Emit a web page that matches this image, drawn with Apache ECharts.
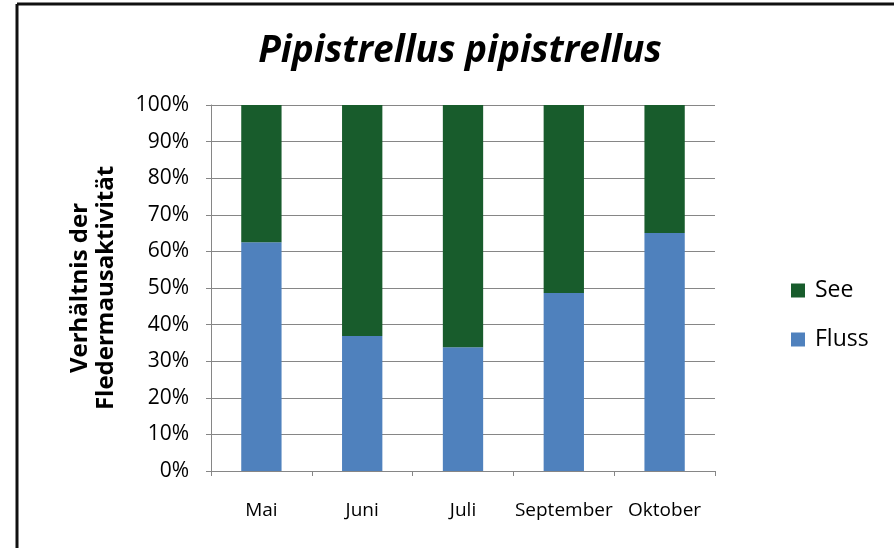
<!DOCTYPE html>
<html>
<head>
<meta charset="utf-8">
<script src="https://cdn.jsdelivr.net/npm/echarts@6/dist/echarts.min.js"></script>
<style>
  html, body { margin: 0; padding: 0; background: #fff; }
  #main { width: 894px; height: 548px; }
</style>
</head>
<body>
<div id="main"></div>
<script>
// Monate und Anteile (in %)
var months = ['Mai', 'Juni', 'Juli', 'September', 'Oktober'];
var fluss = [62.5, 36.9, 33.8, 48.6, 65.0];
var see = [37.5, 63.1, 66.2, 51.4, 35.0];
var yTicks = [0, 10, 20, 30, 40, 50, 60, 70, 80, 90, 100];

var font = 'Open Sans';
var axisGray = '#868686';

var chart = echarts.init(document.getElementById('main'));

var option = {
  backgroundColor: '#fff',
  animation: false,
  title: {
    text: 'Pipistrellus pipistrellus',
    left: 455,
    top: 28,
    textAlign: 'center',
    textStyle: {
      fontFamily: font,
      fontStyle: 'italic',
      fontWeight: 'bold',
      fontSize: 37,
      color: '#000'
    }
  },
  legend: {
    orient: 'vertical',
    left: 791,
    top: 279,
    padding: 0,
    itemWidth: 14,
    itemHeight: 14,
    itemGap: 26,
    icon: 'rect',
    data: ['See', 'Fluss'],
    textStyle: { fontFamily: font, fontSize: 23, color: '#000', padding: [0, 0, 0, 5] }
  },
  grid: {
    left: 211,
    right: 179,
    top: 105,
    bottom: 77,
    containLabel: false
  },
  xAxis: {
    type: 'category',
    data: months,
    axisLine: { lineStyle: { color: axisGray, width: 1 } },
    axisTick: { show: true, length: 5, interval: 0, lineStyle: { color: axisGray } },
    axisLabel: { margin: 30, fontFamily: font, fontSize: 19, color: '#000', interval: 0 }
  },
  yAxis: {
    type: 'value',
    min: yTicks[0],
    max: yTicks[yTicks.length - 1],
    interval: 10,
    name: 'Verhältnis der\nFledermausaktivität',
    nameLocation: 'middle',
    nameGap: 92,
    nameTextStyle: { fontFamily: font, fontWeight: 'bold', fontSize: 24, color: '#000', lineHeight: 26 },
    axisLine: { show: true, lineStyle: { color: axisGray, width: 1 } },
    axisTick: { show: true, length: 5, lineStyle: { color: axisGray } },
    axisLabel: { margin: 22, fontFamily: font, fontSize: 21, color: '#000', formatter: '{value}%' },
    splitLine: { show: true, lineStyle: { color: axisGray, width: 1 } }
  },
  graphic: [
    { type: 'line', shape: { x1: 17, y1: 4, x2: 894, y2: 4 }, style: { stroke: '#111', lineWidth: 3 } },
    { type: 'line', shape: { x1: 17, y1: 4, x2: 17, y2: 548 }, style: { stroke: '#111', lineWidth: 3 } }
  ],
  series: [
    {
      name: 'Fluss',
      type: 'bar',
      stack: 'total',
      barWidth: '40%',
      data: fluss,
      itemStyle: { color: '#4f81bd' }
    },
    {
      name: 'See',
      type: 'bar',
      stack: 'total',
      barWidth: '40%',
      data: see,
      itemStyle: { color: '#185c2c' }
    }
  ]
};

chart.setOption(option);
</script>
</body>
</html>
